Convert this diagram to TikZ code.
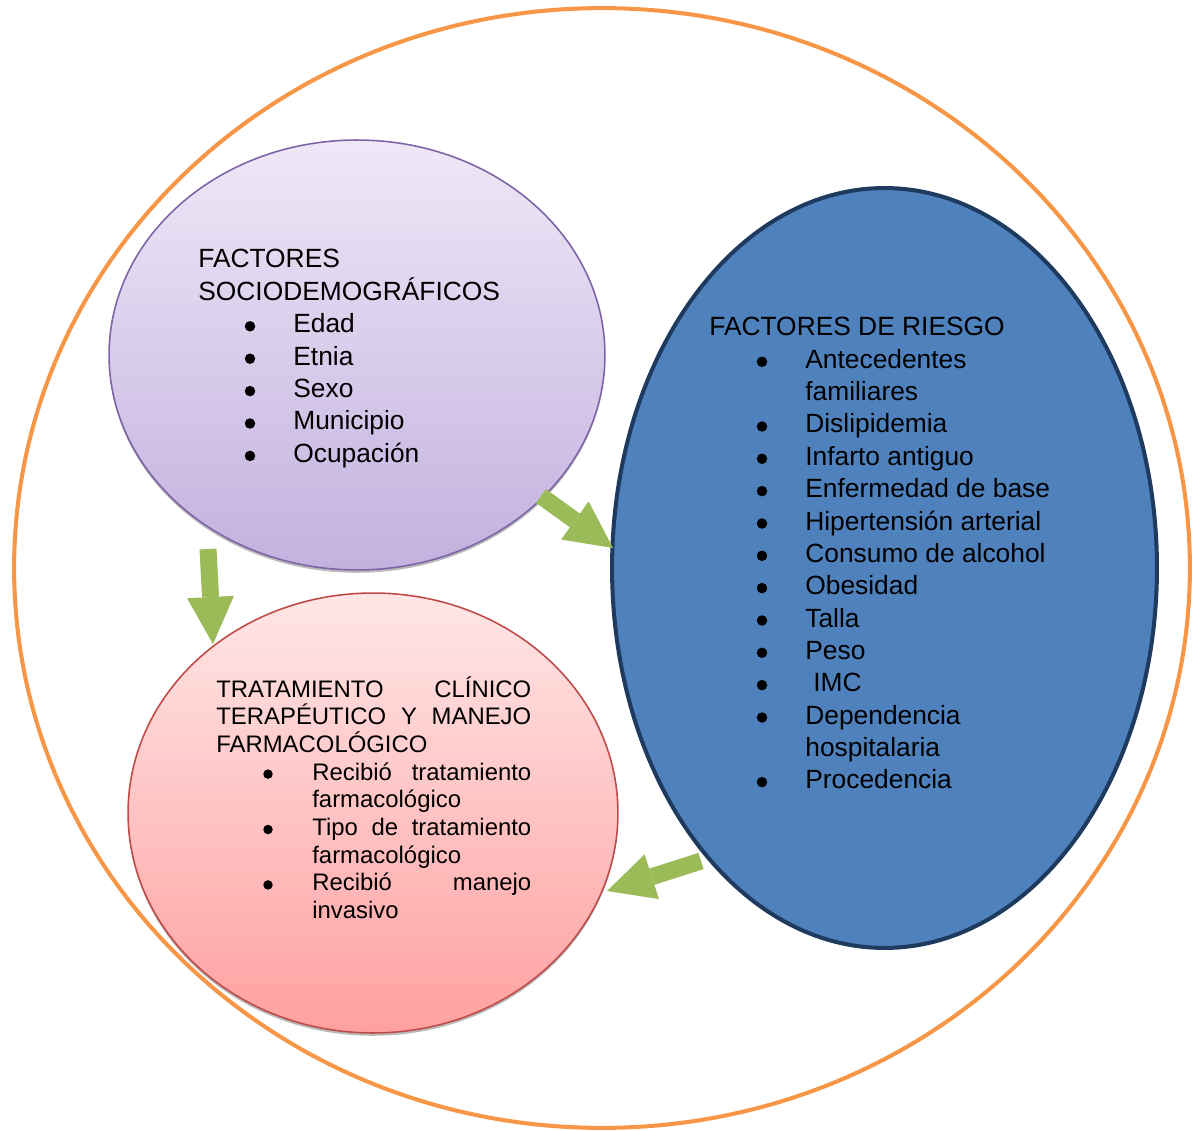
\documentclass[tikz,border=0pt]{standalone}
\usepackage{fontspec}
\setmainfont{Liberation Sans}
\usetikzlibrary{shapes.geometric,arrows.meta,shadows}
\definecolor{ringor}{HTML}{F79646}
\definecolor{purtop}{HTML}{EEE8F7}
\definecolor{purbot}{HTML}{C3B1DF}
\definecolor{purline}{HTML}{7E64A6}
\definecolor{pinktop}{HTML}{FFE6E6}
\definecolor{pinkbot}{HTML}{FFA0A0}
\definecolor{pinkline}{HTML}{BE4B48}
\definecolor{bluefill}{HTML}{4F81BD}
\definecolor{blueline}{HTML}{1F3A5F}
\definecolor{arrgreen}{HTML}{9BBB59}
\begin{document}
\begin{tikzpicture}[x=0.02cm,y=-0.02cm,
  ell/.style={ellipse, inner sep=0pt},
  tbig/.style={anchor=base west, inner sep=0pt, font=\fontsize{15pt}{18pt}\selectfont},
  bbig/.style={circle, fill=black, inner sep=0pt, minimum size=0.21cm},
  tsm/.style={anchor=base west, inner sep=0pt, font=\fontsize{13.6pt}{16pt}\selectfont},
  bsm/.style={circle, fill=black, inner sep=0pt, minimum size=0.19cm},
  garrow/.style={draw=arrgreen, line width=0.34cm,
     -{Triangle[width=0.94cm,length=0.94cm,line width=0pt,fill=arrgreen]}}
]
\useasboundingbox (0,0) rectangle (1196,1131);

% outer ring
\node[ell, draw=ringor, line width=2.3pt, minimum width=23.52cm, minimum height=22.4cm] (ring) at (602,568) {};

% three ellipses
\node[ell, draw=purline, line width=0.9pt, top color=purtop, bottom color=purbot,
  drop shadow={shadow xshift=0pt, shadow yshift=-1.6pt, fill=black!45, opacity=0.6},
  minimum width=9.92cm, minimum height=8.6cm] (soc) at (357,355) {};
\node[ell, draw=pinkline, line width=0.9pt, top color=pinktop, bottom color=pinkbot,
  drop shadow={shadow xshift=0pt, shadow yshift=-1.6pt, fill=black!45, opacity=0.6},
  minimum width=9.8cm, minimum height=8.8cm] (trat) at (373,813) {};
\node[ell, draw=blueline, fill=bluefill, line width=2.3pt,
  minimum width=10.9cm, minimum height=15.2cm] (ries) at (884.5,568) {};

% arrows
\coordinate (a1s) at (541,496);
\coordinate (a1e) at (613,548);
\coordinate (a2s) at (208,549);
\coordinate (a2e) at (213,644);
\coordinate (a3s) at (701,861);
\coordinate (a3e) at (607,891);
\draw[garrow] (a1s) -- (a1e);
\draw[garrow] (a2s) -- (a2e);
\draw[garrow] (a3s) -- (a3e);

% sociodemographic text
\node[tbig] (p1) at (198,268) {FACTORES};
\node[tbig] (p2) at (198,300.4) {SOCIODEMOGRÁFICOS};
\node[bbig] (pb1) at (250,326.3) {};
\node[tbig] (p3) at (293,332.8) {Edad};
\node[bbig] (pb2) at (250,358.7) {};
\node[tbig] (p4) at (293,365.2) {Etnia};
\node[bbig] (pb3) at (250,391.1) {};
\node[tbig] (p5) at (293,397.6) {Sexo};
\node[bbig] (pb4) at (250,423.5) {};
\node[tbig] (p6) at (293,430) {Municipio};
\node[bbig] (pb5) at (250,455.9) {};
\node[tbig] (p7) at (293,462.4) {Ocupación};

% risk factors text
\node[tbig] (r0) at (709,336) {FACTORES DE RIESGO};
\node[bbig] (rb1) at (762,361.8) {};
\node[tbig] (r1) at (805,368.3) {Antecedentes};
\node[tbig] (r1b) at (805,400.6) {familiares};
\node[bbig] (rb2) at (762,426.5) {};
\node[tbig] (r2) at (805,433) {Dislipidemia};
\node[bbig] (rb3) at (762,458.8) {};
\node[tbig] (r3) at (805,465.3) {Infarto antiguo};
\node[bbig] (rb4) at (762,491.1) {};
\node[tbig] (r4) at (805,497.6) {Enfermedad de base};
\node[bbig] (rb5) at (762,523.5) {};
\node[tbig] (r5) at (805,530) {Hipertensión arterial};
\node[bbig] (rb6) at (762,555.8) {};
\node[tbig] (r6) at (805,562.3) {Consumo de alcohol};
\node[bbig] (rb7) at (762,588.1) {};
\node[tbig] (r7) at (805,594.6) {Obesidad};
\node[bbig] (rb8) at (762,620.5) {};
\node[tbig] (r8) at (805,627) {Talla};
\node[bbig] (rb9) at (762,652.8) {};
\node[tbig] (r9) at (805,659.3) {Peso};
\node[bbig] (rb10) at (762,685.1) {};
\node[tbig] (r10) at (813,691.6) {IMC};
\node[bbig] (rb11) at (762,717.5) {};
\node[tbig] (r11) at (805,724) {Dependencia};
\node[tbig] (r11b) at (805,756.3) {hospitalaria};
\node[bbig] (rb12) at (762,782.1) {};
\node[tbig] (r12) at (805,788.6) {Procedencia};

% treatment text
\node[tsm] (t1) at (216,697) {\makebox[6.3cm][s]{TRATAMIENTO CLÍNICO}};
\node[tsm] (t2) at (216,724.7) {\makebox[6.3cm][s]{TERAPÉUTICO Y MANEJO}};
\node[tsm] (t3) at (216,752.4) {FARMACOLÓGICO};
\node[bsm] (tb1) at (268,774.1) {};
\node[tsm] (t4) at (312,780.1) {\makebox[4.38cm][s]{Recibió tratamiento}};
\node[tsm] (t4b) at (312,807.8) {farmacológico};
\node[bsm] (tb2) at (268,829.5) {};
\node[tsm] (t5) at (312,835.5) {\makebox[4.38cm][s]{Tipo de tratamiento}};
\node[tsm] (t5b) at (312,863.2) {farmacológico};
\node[bsm] (tb3) at (268,884.9) {};
\node[tsm] (t6) at (312,890.9) {\makebox[4.38cm][s]{Recibió manejo}};
\node[tsm] (t6b) at (312,918.6) {invasivo};
\end{tikzpicture}
\end{document}
